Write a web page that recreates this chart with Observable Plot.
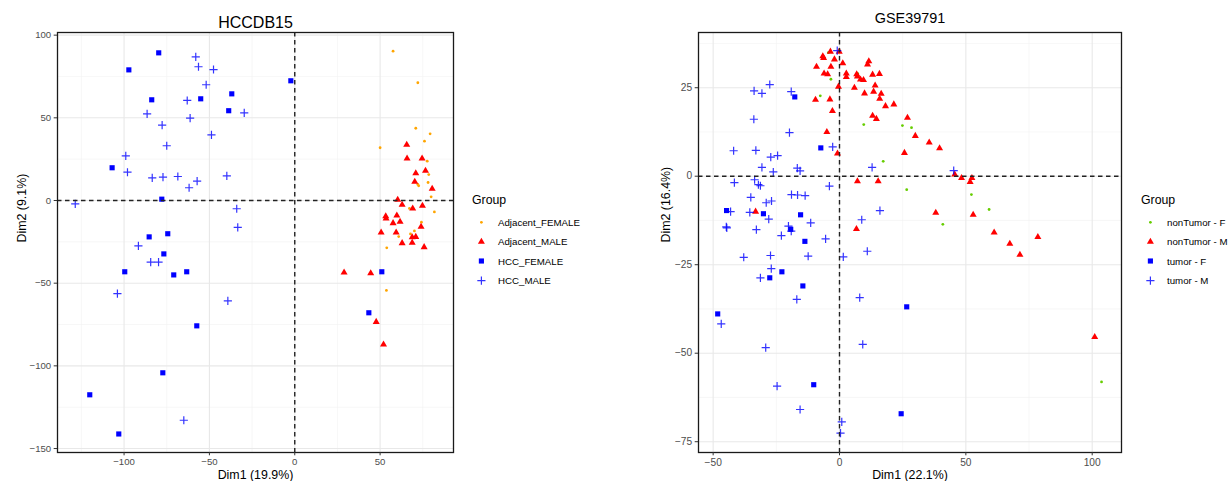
<!DOCTYPE html>
<html><head><meta charset="utf-8">
<script src="https://cdn.jsdelivr.net/npm/d3@7"></script>
<script src="https://cdn.jsdelivr.net/npm/@observablehq/plot@0.6"></script>
<style>
html,body{margin:0;padding:0;background:#fff;overflow:hidden;width:1231px;height:481px;}
#root{position:relative;width:1231px;height:481px;overflow:hidden;font-family:"Liberation Sans",Arial,sans-serif;}
#root > svg{position:absolute;top:0;}
</style></head><body><div id="root"></div>
<script>
// ---------- HCCDB15 (left) ----------
const hccTitle = "HCCDB15";
const hccXLabel = "Dim1 (19.9%)";
const hccYLabel = "Dim2 (9.1%)";
const hccGroups = ["Adjacent_FEMALE", "Adjacent_MALE", "HCC_FEMALE", "HCC_MALE"];
const hccXTicks = [-100, -50, 0, 50];
const hccYTicks = [-150, -100, -50, 0, 50, 100];
const hccXMinor = [-125, -75, -25, 25, 75];
const hccYMinor = [-125, -75, -25, 25, 75];
const hccAdjacentFemale = [[57.6,90.3],[72.1,71.2],[70.9,43.7],[79.3,40.3],[76.0,35.9],[50.0,31.9],[77.6,23.8],[78.5,15.7],[72.1,9.7],[72.6,8.9],[78.1,10.9],[79.9,2.2],[67.2,-4.8],[81.8,-6.9],[74.2,-13.1],[70.1,-18.4],[67.8,-20.2],[60.9,-21.8],[53.9,-28.6],[53.7,-54.4]];
const hccAdjacentMale = [[65.6,33.7],[65.8,25.4],[74.6,25.4],[70.9,16.5],[76.6,18.0],[70.3,11.3],[80.5,7.1],[60.3,0.4],[62.9,-2.6],[69.1,-4.8],[74.8,-3.2],[53.3,-9.5],[53.5,-10.9],[59.8,-9.1],[57.6,-13.7],[61.7,-12.9],[74.0,-15.9],[50.6,-19.4],[59.4,-19.4],[68.8,-22.2],[70.9,-22.0],[62.9,-25.8],[68.8,-25.6],[75.8,-28.2],[28.9,-43.6],[44.5,-44.0],[47.7,-73.4],[52.0,-87.1]];
const hccTumorFemale = [[-79.7,89.3],[-97.2,79.0],[-83.8,60.9],[-55.1,61.5],[-36.9,64.5],[-38.7,54.3],[-2.3,72.4],[-107.0,19.8],[-77.9,0.8],[-85.3,-22.0],[-74.4,-20.1],[-76.7,-32.3],[-99.6,-43.1],[-70.9,-45.0],[-63.3,-43.1],[-57.4,-75.8],[-77.3,-104.2],[-120.1,-117.5],[-103.1,-141.2],[51.0,-43.1],[43.4,-67.9]];
const hccTumorMale = [[-58.0,86.9],[-56.4,80.9],[-47.6,79.2],[-51.9,70.0],[-63.0,60.5],[-86.5,52.4],[-61.3,49.8],[-29.6,53.0],[-77.7,45.6],[-48.8,39.7],[-75.0,33.1],[-99.0,27.0],[-98.0,17.1],[-83.5,13.7],[-77.2,14.1],[-68.5,14.5],[-39.8,14.9],[-57.2,11.7],[-61.9,7.7],[-128.6,-2.0],[-34.0,-5.0],[-33.4,-16.3],[-91.6,-27.4],[-84.4,-37.3],[-79.8,-37.3],[-103.9,-56.3],[-39.2,-60.7],[-65.0,-132.9]];

// ---------- GSE39791 (right) ----------
const gseTitle = "GSE39791";
const gseXLabel = "Dim1 (22.1%)";
const gseYLabel = "Dim2 (16.4%)";
const gseGroups = ["nonTumor - F", "nonTumor - M", "tumor - F", "tumor - M"];
const gseXTicks = [-50, 0, 50, 100];
const gseYTicks = [-75, -50, -25, 0, 25];
const gseXMinor = [-25, 25, 75];
const gseYMinor = [-62.5, -37.5, -12.5, 12.5, 37.5];
const gseNonTumorFemale = [[-4.4,34.9],[7.2,29.0],[-3.4,27.4],[-7.6,22.7],[9.6,14.6],[24.9,14.3],[28.5,13.7],[17.3,4.2],[26.6,-3.8],[52.2,-5.2],[59.2,-9.4],[40.9,-13.6],[103.7,-58.1]];
const gseNonTumorMale = [[-3.6,35.2],[-0.1,35.2],[-6.6,33.9],[-6.3,33.4],[-2.0,33.0],[11.6,32.5],[11.1,31.6],[1.3,31.9],[-9.1,30.9],[-3.4,30.9],[-6.1,29.0],[-4.7,28.8],[2.7,29.0],[2.7,28.0],[6.8,28.8],[7.1,28.2],[13.1,28.7],[15.8,28.9],[8.3,27.3],[9.5,27.2],[-0.4,25.3],[5.9,25.0],[14.1,25.6],[9.9,23.4],[13.5,23.9],[16.5,23.3],[15.9,21.9],[-9.5,21.6],[-3.8,21.7],[18.2,19.8],[21.5,20.3],[-2.8,18.4],[13.1,17.1],[14.6,16.2],[26.9,16.5],[-5.0,12.5],[30.0,11.4],[-0.8,6.4],[25.7,6.6],[7.1,-1.4],[15.3,-1.4],[38.1,-10.3],[6.7,-14.9],[-33.2,-10.0],[39.6,7.9],[35.5,9.5],[45.6,0.5],[48.3,-0.5],[52.4,-0.5],[51.7,-1.6],[52.9,-10.9],[61.2,-15.9],[67.4,-19.1],[71.4,-22.2],[78.5,-17.2],[101.0,-45.4]];
const gseTumorFemale = [[-17.7,22.4],[-7.4,8.0],[-44.7,-9.7],[-30.1,-10.6],[-15.4,-10.9],[-19.3,-15.0],[-13.7,-18.4],[-22.8,-27.0],[-27.6,-28.7],[-14.5,-31.0],[-48.2,-38.9],[26.6,-36.9],[-10.2,-58.9],[24.4,-67.1]];
const gseTumorMale = [[-27.6,25.9],[-33.8,24.1],[-30.7,23.4],[-19.1,23.9],[-33.9,16.1],[-19.8,12.3],[-41.9,7.2],[-33.1,7.3],[-27.2,5.4],[-24.5,5.8],[-2.7,8.3],[-30.7,2.5],[-26.2,1.2],[-16.7,2.3],[-15.6,1.5],[-41.6,-1.8],[-33.6,-1.0],[-32.1,-2.4],[-31.3,-2.7],[-4.0,-2.8],[12.9,2.5],[-0.9,35.5],[-35.1,-6.0],[-19.0,-5.2],[-16.6,-5.3],[-13.6,-5.5],[-29.0,-7.5],[-26.9,-7.0],[-43.1,-10.0],[-35.5,-10.2],[-28.0,-12.1],[-44.8,-14.3],[-44.6,-14.6],[-32.9,-15.1],[-20.2,-14.1],[-19.1,-15.5],[-11.4,-13.2],[-23.0,-16.8],[-5.5,-17.7],[-37.9,-22.9],[-27.3,-22.4],[-12.4,-22.6],[-27.0,-26.1],[-31.3,-28.7],[-16.9,-34.8],[1.5,-22.8],[11.0,-21.2],[8.0,-34.3],[-46.8,-41.7],[-29.2,-48.4],[9.2,-47.5],[-24.7,-59.3],[-15.6,-65.9],[0.9,-69.4],[0.4,-72.6],[16.0,-9.7],[8.8,-12.3],[45.2,1.6]];

const legendTitle = "Group";

// ---------- styles per group position (dot, triangle, square, plus) ----------
const FONT = '"Liberation Sans", Arial, sans-serif';
const fmt = d => d < 0 ? "\u2212" + (-d) : String(d);
const toRows = (pairs, group) => pairs.map(([x, y]) => ({x, y, group}));

const styleSets = {
  hcc: [
    {symbol: "circle", r: 1.4, fill: "#FFA500"},
    {symbol: "triangle", r: 2.6, fill: "#FF0000"},
    {symbol: "square", r: 2.9, fill: "#0000FF"},
    {symbol: "plus", r: 2.75, stroke: "#0000FF"}
  ],
  gse: [
    {symbol: "circle", r: 1.4, fill: "#66CD00"},
    {symbol: "triangle", r: 2.6, fill: "#FF0000"},
    {symbol: "square", r: 2.9, fill: "#0000FF"},
    {symbol: "plus", r: 2.75, stroke: "#0000FF"}
  ]
};

function pointMark(rows, st) {
  if (st.symbol === "plus") {
    return Plot.dot(rows, {x: "x", y: "y", symbol: "plus", r: st.r, stroke: st.stroke, strokeWidth: 1.2, strokeOpacity: 0.8, fill: "none"});
  }
  return Plot.dot(rows, {x: "x", y: "y", symbol: st.symbol, r: st.r, fill: st.fill, stroke: "none"});
}

function panel(cfg) {
  const dashed = {stroke: "#222", strokeWidth: 1.4, strokeDasharray: "4.5,3.5"};
  return Plot.plot({
    width: cfg.width, height: 481,
    marginLeft: cfg.marginLeft, marginRight: cfg.marginRight, marginTop: 32, marginBottom: 29,
    x: {domain: cfg.xDomain},
    y: {domain: cfg.yDomain},
    style: {fontFamily: FONT, fontSize: "10px", background: "white", overflow: "visible"},
    marks: [
      Plot.ruleX(cfg.xMinor, {stroke: "#f2f2f2", strokeWidth: 0.6}),
      Plot.ruleY(cfg.yMinor, {stroke: "#f2f2f2", strokeWidth: 0.6}),
      Plot.ruleX(cfg.xTicks, {stroke: "#e8e8e8", strokeWidth: 1.1}),
      Plot.ruleY(cfg.yTicks, {stroke: "#e8e8e8", strokeWidth: 1.1}),
      ...cfg.series.map((rows, i) => pointMark(rows, cfg.styles[i])),
      Plot.ruleX([0], dashed),
      Plot.ruleY([0], dashed),
      Plot.frame({stroke: "#1a1a1a", strokeWidth: 1.3}),
      Plot.axisX({ticks: cfg.xTicks, tickSize: 3.3, tickPadding: 2.5, fontSize: cfg.tickFont, tickFormat: fmt, label: null, stroke: "#333", fill: "#4d4d4d"}),
      Plot.axisY({ticks: cfg.yTicks, tickSize: 3.3, tickPadding: 3, fontSize: cfg.tickFont, tickFormat: fmt, label: null, stroke: "#333", fill: "#4d4d4d"}),
      Plot.text([cfg.title], {frameAnchor: "top", dy: cfg.titleDy, fontSize: cfg.titleSize, lineAnchor: "middle", fill: "#000"}),
      Plot.text([cfg.xLabel], {frameAnchor: "bottom", dy: 22.3, fontSize: 12.4, lineAnchor: "middle", fill: "#000"}),
      Plot.text([cfg.yLabel], {frameAnchor: "left", dx: cfg.yLabelDx, rotate: -90, fontSize: 12.4, lineAnchor: "middle", fill: "#000"})
    ]
  });
}

const root = document.getElementById("root");

const left = panel({
  width: 460, marginLeft: 57, marginRight: 7,
  xDomain: [-139.0, 93.0], yDomain: [-152.4, 101.6],
  xTicks: hccXTicks, yTicks: hccYTicks, xMinor: hccXMinor, yMinor: hccYMinor,
  series: [toRows(hccAdjacentFemale, hccGroups[0]), toRows(hccAdjacentMale, hccGroups[1]), toRows(hccTumorFemale, hccGroups[2]), toRows(hccTumorMale, hccGroups[3])],
  styles: styleSets.hcc,
  title: hccTitle, titleSize: 16, titleDy: -10, xLabel: hccXLabel, yLabel: hccYLabel, yLabelDx: -35, tickFont: 9.6
});
left.style.left = "0px";
root.appendChild(left);

const right = panel({
  width: 490, marginLeft: 58, marginRight: 9,
  xDomain: [-55.8, 111.6], yDomain: [-78.05, 40.6],
  xTicks: gseXTicks, yTicks: gseYTicks, xMinor: gseXMinor, yMinor: gseYMinor,
  series: [toRows(gseNonTumorFemale, gseGroups[0]), toRows(gseNonTumorMale, gseGroups[1]), toRows(gseTumorFemale, gseGroups[2]), toRows(gseTumorMale, gseGroups[3])],
  styles: styleSets.gse,
  title: gseTitle, titleSize: 14.4, titleDy: -14.5, xLabel: gseXLabel, yLabel: gseYLabel, yLabelDx: -32, tickFont: 10.2
});
right.style.left = "640px";
root.appendChild(right);

// ---------- legends ----------
const symbolTypes = {circle: d3.symbolCircle, triangle: d3.symbolTriangle, square: d3.symbolSquare, plus: d3.symbolPlus};
function legend(x0, labels, styles) {
  const svg = d3.create("svg").attr("width", 140).attr("height", 481)
    .style("left", x0 + "px").style("font-family", FONT);
  svg.append("text").attr("x", 0).attr("y", 200).attr("dominant-baseline", "central")
    .attr("font-size", 12.3).attr("fill", "#000").text(legendTitle);
  const ys = [222.3, 241.7, 261, 280.7];
  labels.forEach((lab, i) => {
    const st = styles[i];
    const path = d3.symbol().type(symbolTypes[st.symbol]).size(Math.PI * st.r * st.r)();
    const p = svg.append("path").attr("d", path).attr("transform", `translate(9.4,${ys[i]})`);
    if (st.symbol === "plus") p.attr("fill", "none").attr("stroke", st.stroke).attr("stroke-width", 1.2).attr("stroke-opacity", 0.8);
    else p.attr("fill", st.fill);
    svg.append("text").attr("x", 26).attr("y", ys[i]).attr("dominant-baseline", "central")
      .attr("font-size", 9.7).attr("fill", "#000").text(lab);
  });
  return svg.node();
}
root.appendChild(legend(472.3, hccGroups, styleSets.hcc));
root.appendChild(legend(1140.7, gseGroups, styleSets.gse));
</script>
</body></html>
